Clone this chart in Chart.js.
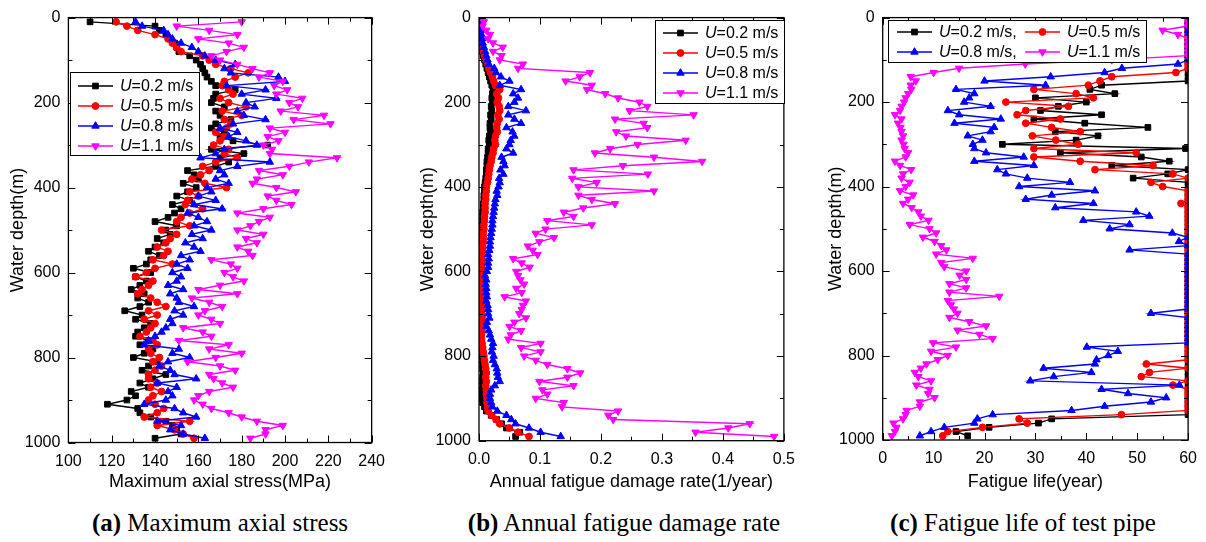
<!DOCTYPE html>
<html>
<head>
<meta charset="utf-8">
<script src="https://cdn.jsdelivr.net/npm/chart.js@4.4.1/dist/chart.umd.min.js"></script>
<style>
  body { margin: 0; background: #fff; }
  #page { position: relative; width: 1206px; height: 542px; overflow: hidden; background: #fff; }
  .box { position: absolute; top: 0; }
  .cap { position: absolute; top: 508px; font: 25px "Liberation Serif", "Times New Roman", serif; line-height: 30px; white-space: nowrap; transform: translateX(-50%); color: #000; }
</style>
</head>
<body>
<div id="page">
  <div class="box" style="left:0px;width:394px;height:493px"><canvas id="chartA" width="394" height="493"></canvas></div>
  <div class="box" style="left:410px;width:394px;height:493px"><canvas id="chartB" width="394" height="493"></canvas></div>
  <div class="box" style="left:818px;width:388px;height:493px"><canvas id="chartC" width="388" height="493"></canvas></div>
  <div class="cap" style="left:220px"><b>(a)</b> Maximum axial stress</div>
  <div class="cap" style="left:624px"><b>(b)</b> Annual fatigue damage rate</div>
  <div class="cap" style="left:1023px"><b>(c)</b> Fatigue life of test pipe</div>
</div>
<script>
// water depth of each point (m)
const depths = [
  10, 20, 30, 40, 50, 60, 70, 80, 90, 100,
  110, 120, 130, 140, 150, 160, 170, 180, 190, 200,
  210, 220, 230, 240, 250, 260, 270, 280, 290, 300,
  310, 320, 330, 340, 350, 360, 370, 380, 390, 400,
  410, 420, 430, 440, 450, 460, 470, 480, 490, 500,
  510, 520, 530, 540, 550, 560, 570, 580, 590, 600,
  610, 620, 630, 640, 650, 660, 670, 680, 690, 700,
  710, 720, 730, 740, 750, 760, 770, 780, 790, 800,
  810, 820, 830, 840, 850, 860, 870, 880, 890, 900,
  910, 920, 930, 940, 950, 960, 970, 980, 990
];

const legendLabels = ['=0.2 m/s', '=0.5 m/s', '=0.8 m/s', '=1.1 m/s'];

// (a) maximum axial stress, MPa
const stressU02 = [
  110, 140, 142, 145, 147, 149, 150, 151, 156, 159,
  161, 162, 163, 164, 166, 168, 177, 168, 167, 166,
  172, 168, 170, 175, 168, 166, 172, 170, 176, 192,
  166, 181, 170, 174, 168, 155, 158, 160, 153, 159,
  155, 150, 156, 148, 152, 149, 146, 140, 150, 145,
  147, 141, 144, 140, 137, 142, 138, 136, 130, 138,
  131, 136, 133, 129, 135, 132, 137, 133, 126, 134,
  131, 138, 135, 132, 131, 137, 133, 139, 135, 130,
  141, 137, 134, 145, 139, 133, 137, 129, 131, 127,
  118, 132, 133, 138, 145, 148, 150, 152, 140
];
const stressU05 = [
  122, 127, 132, 140, 146, 148, 150, 152, 162, 165,
  168, 175, 183, 177, 172, 171, 174, 176, 170, 174,
  182, 171, 180, 172, 175, 173, 168, 172, 170, 167,
  174, 172, 178, 168, 162, 165, 161, 157, 163, 173,
  156, 160, 155, 154, 162, 156, 152, 150, 156, 143,
  150, 147, 145, 141, 146, 144, 139, 148, 140, 136,
  131, 139, 137, 134, 132, 138, 141, 145, 137, 141,
  135, 140, 138, 136, 133, 139, 141, 137, 138, 142,
  139, 143, 140, 137, 137, 141, 138, 143, 139, 137,
  140, 144, 141, 135, 156, 141, 149, 153, 158
];
const stressU08 = [
  131, 134, 144, 146, 148, 152, 157, 160, 163, 168,
  177, 172, 175, 197, 200, 173, 191, 180, 196, 182,
  186, 178, 181, 191, 176, 170, 178, 174, 182, 187,
  172, 168, 161, 193, 178, 170, 172, 168, 174, 164,
  166, 160, 168, 158, 171, 155, 160, 164, 158, 166,
  157, 162, 154, 158, 161, 152, 156, 150, 155, 148,
  152, 150, 146, 153, 147, 150, 151, 158, 149, 153,
  147, 148, 145, 143, 140, 137, 135, 151, 148, 156,
  146, 142, 147, 149, 159, 141, 150, 146, 148, 145,
  135, 149, 153, 159, 141, 152, 147, 153, 163
];
const stressU11 = [
  180, 150, 165, 178, 160, 174, 181, 173, 166, 170,
  178, 185, 193, 188, 199, 195, 201, 196, 208, 202,
  206, 198, 218, 204, 221, 193, 200, 192, 197, 190,
  194, 193, 224, 211, 202, 188, 199, 187, 185, 196,
  205, 192, 196, 203, 190, 178, 193, 188, 184, 178,
  190, 182, 187, 178, 183, 185, 166, 175, 178, 172,
  176, 181, 170, 160, 178, 157, 165, 171, 163, 160,
  166, 170, 153, 162, 166, 151, 174, 165, 180, 168,
  155, 170, 177, 165, 167, 171, 176, 165, 160, 158,
  162, 166, 174, 180, 187, 199, 191, 191, 184
];

// (b) annual fatigue damage rate, 1/year
const damageU02 = [
  0.0, 0.0, 0.001, 0.001, 0.002, 0.003, 0.004, 0.005, 0.007, 0.009,
  0.011, 0.013, 0.015, 0.017, 0.019, 0.021, 0.023, 0.022, 0.021, 0.022,
  0.02, 0.021, 0.019, 0.02, 0.018, 0.018, 0.019, 0.017, 0.016, 0.017,
  0.015, 0.015, 0.014, 0.013, 0.013, 0.012, 0.012, 0.011, 0.01, 0.009,
  0.009, 0.008, 0.008, 0.007, 0.007, 0.006, 0.006, 0.006, 0.005, 0.005,
  0.004, 0.004, 0.004, 0.003, 0.003, 0.003, 0.003, 0.002, 0.002, 0.002,
  0.002, 0.002, 0.002, 0.002, 0.002, 0.003, 0.003, 0.003, 0.003, 0.003,
  0.003, 0.003, 0.003, 0.003, 0.003, 0.003, 0.004, 0.004, 0.005, 0.005,
  0.006, 0.006, 0.006, 0.007, 0.006, 0.006, 0.006, 0.005, 0.005, 0.004,
  0.006, 0.009, 0.012, 0.02, 0.029, 0.037, 0.045, 0.067, 0.06
];
const damageU05 = [
  0.0, 0.001, 0.001, 0.002, 0.003, 0.004, 0.005, 0.007, 0.009, 0.011,
  0.014, 0.016, 0.019, 0.022, 0.024, 0.027, 0.034, 0.029, 0.032, 0.03,
  0.033, 0.034, 0.031, 0.033, 0.03, 0.029, 0.03, 0.027, 0.026, 0.027,
  0.024, 0.023, 0.021, 0.02, 0.018, 0.017, 0.016, 0.015, 0.014, 0.012,
  0.012, 0.011, 0.011, 0.01, 0.01, 0.01, 0.009, 0.009, 0.008, 0.008,
  0.007, 0.007, 0.007, 0.006, 0.006, 0.005, 0.005, 0.005, 0.004, 0.004,
  0.003, 0.003, 0.002, 0.003, 0.003, 0.004, 0.004, 0.004, 0.005, 0.004,
  0.005, 0.004, 0.004, 0.005, 0.004, 0.004, 0.005, 0.006, 0.007, 0.008,
  0.009, 0.01, 0.011, 0.012, 0.011, 0.012, 0.011, 0.012, 0.012, 0.013,
  0.013, 0.014, 0.015, 0.021, 0.028, 0.034, 0.05, 0.064, 0.082
];
const damageU08 = [
  0.001, 0.002, 0.003, 0.004, 0.005, 0.006, 0.008, 0.01, 0.012, 0.014,
  0.016, 0.025, 0.028, 0.036, 0.05, 0.034, 0.069, 0.056, 0.064, 0.058,
  0.048, 0.077, 0.048, 0.058, 0.069, 0.045, 0.055, 0.058, 0.052, 0.05,
  0.045, 0.056, 0.037, 0.04, 0.042, 0.035, 0.04, 0.033, 0.034, 0.032,
  0.029, 0.03, 0.027, 0.026, 0.025, 0.024, 0.023, 0.022, 0.022, 0.021,
  0.02, 0.019, 0.018, 0.018, 0.017, 0.015, 0.016, 0.015, 0.015, 0.013,
  0.01, 0.012, 0.011, 0.012, 0.012, 0.013, 0.012, 0.014, 0.015, 0.015,
  0.017, 0.013, 0.012, 0.016, 0.018, 0.02, 0.023, 0.022, 0.021, 0.024,
  0.023, 0.026, 0.029, 0.03, 0.031, 0.034, 0.026, 0.02, 0.018, 0.018,
  0.02, 0.022, 0.03, 0.045, 0.053, 0.06, 0.082, 0.101, 0.134
];
const damageU11 = [
  0.008, 0.006, 0.012, 0.018, 0.015, 0.023, 0.039, 0.023, 0.037, 0.034,
  0.072, 0.064, 0.182, 0.165, 0.142, 0.185, 0.177, 0.207, 0.228, 0.263,
  0.276, 0.247, 0.352, 0.223, 0.27, 0.276, 0.225, 0.241, 0.339, 0.26,
  0.215, 0.19, 0.287, 0.366, 0.236, 0.155, 0.277, 0.153, 0.193, 0.163,
  0.287, 0.163, 0.185, 0.223, 0.171, 0.139, 0.155, 0.112, 0.185, 0.109,
  0.093, 0.123, 0.099, 0.08, 0.088, 0.096, 0.056, 0.07, 0.083, 0.061,
  0.064, 0.068, 0.074, 0.061, 0.07, 0.042, 0.077, 0.072, 0.07, 0.066,
  0.077, 0.058, 0.05, 0.069, 0.052, 0.048, 0.101, 0.069, 0.101, 0.074,
  0.093, 0.112, 0.145, 0.166, 0.145, 0.099, 0.155, 0.104, 0.112, 0.093,
  0.139, 0.136, 0.228, 0.212, 0.22, 0.444, 0.409, 0.355, 0.484
];

// (c) fatigue life, year (plotted up to 60)
const lifeU02 = [
  60, 60, 60, 60, 60, 60, 60, 60, 60, 60,
  60, 60, 60, 60, 60, 43, 40.7, 45.6, 30, 40,
  34.5, 31, 43, 29.7, 39.7, 52.1, 33.9, 42.3, 38, 23.5,
  59.5, 34.9, 50.8, 56.3, 45, 60, 56, 49.2, 60, 60,
  60, 60, 60, 60, 60, 60, 60, 60, 60, 60,
  60, 60, 60, 60, 60, 60, 60, 60, 60, 60,
  60, 60, 60, 60, 60, 60, 60, 60, 60, 60,
  60, 60, 60, 60, 60, 60, 60, 60, 60, 60,
  60, 60, 60, 60, 60, 60, 60, 60, 60, 60,
  60, 60, 60, 60, 33.2, 30.6, 20.9, 14.4, 16.7
];
const lifeU05 = [
  60, 60, 60, 60, 60, 60, 60, 60, 60, 60,
  60, 60, 57.6, 45, 42.7, 40.4, 29.7, 38, 41.4, 24.2,
  36.5, 28.1, 26.4, 34.9, 28.1, 33.2, 38.8, 29.4, 34, 38.4,
  29.7, 49.8, 29.7, 38.8, 53.1, 41.7, 57, 60, 52.7, 55,
  60, 60, 60, 58.6, 60, 60, 60, 60, 60, 60,
  60, 60, 60, 60, 60, 60, 60, 60, 60, 60,
  60, 60, 60, 60, 60, 60, 60, 60, 60, 60,
  60, 60, 60, 60, 60, 60, 60, 60, 60, 60,
  60, 51.8, 60, 52.4, 50.8, 60, 57, 60, 60, 60,
  60, 60, 60, 46.9, 26.8, 28.4, 19.6, 12.8, 11.8
];
const lifeU08 = [
  60, 60, 60, 60, 60, 60, 60, 60, 60, 60,
  58, 47, 43.6, 33, 20, 32, 14.4, 18, 17, 16,
  21.2, 12.8, 15, 23.2, 14.1, 21.9, 21.2, 16.7, 19.6, 17.7,
  18, 20.3, 27.7, 18, 29.7, 22.5, 24.2, 28.4, 36.8, 26.8,
  41.7, 33.2, 28.1, 41.4, 33.9, 49.8, 52.4, 39.4, 48.5, 44.6,
  56.9, 60, 58.2, 60, 48.5, 60, 60, 60, 60, 60,
  60, 60, 60, 60, 60, 60, 60, 60, 60, 52.7,
  60, 60, 60, 60, 60, 60, 60, 40.1, 46.2, 44.3,
  42, 41.7, 31.6, 41, 33.6, 29, 58.3, 43, 48.2, 55.7,
  52.7, 43.6, 37.1, 21.6, 18.6, 18, 12.1, 9.5, 7.3
];
const lifeU11 = [
  60, 60, 55, 58, 60, 60, 60, 60, 60, 45,
  28, 15, 10, 5.5, 6.5, 5.5, 5.6, 5, 4.5, 4.2,
  3.7, 3.4, 2.4, 3.7, 3, 3.5, 3.7, 4, 3.7, 4.1,
  4.3, 5, 4.5, 2.4, 3.4, 5.6, 4, 3.7, 5.3, 4.5,
  3.4, 6, 5, 4, 5.7, 7, 7.5, 9, 5.3, 9.2,
  10.5, 7.9, 10.2, 11.5, 12.5, 10.5, 17.7, 11.5, 12.1, 16.4,
  15.1, 16.4, 13.1, 16.4, 13.1, 22.9, 12.8, 13.4, 14, 14.7,
  13.1, 17, 20.3, 14.7, 19, 21.6, 9.9, 14.4, 9.5, 12.8,
  10.8, 8.6, 7.5, 6.3, 7, 9.5, 6.6, 9.2, 8.9, 10.2,
  7.3, 7.3, 4.7, 4.5, 4, 2.1, 2.7, 2.4, 1.8
];

const colors = ['#000000', '#ff0000', '#0000ff', '#ff00ff'];
const markers = [
  {style: 'rect', radius: 4, rot: 0},
  {style: 'circle', radius: 3.4, rot: 0},
  {style: 'triangle', radius: 4.3, rot: 0},
  {style: 'triangle', radius: 4.3, rot: 180}
];

Chart.defaults.font.family = '"Liberation Sans", Arial, sans-serif';
Chart.defaults.color = '#000';

function makeDatasets(seriesList) {
  return seriesList.map(function(vals, k) {
    return {
      label: 'U' + legendLabels[k],
      data: vals.map(function(v, i) { return {x: v, y: depths[i]}; }),
      showLine: true,
      borderColor: colors[k],
      backgroundColor: colors[k],
      borderWidth: 1.4,
      pointStyle: markers[k].style,
      pointRotation: markers[k].rot,
      pointRadius: markers[k].radius,
      pointBorderWidth: 1,
      pointBorderColor: colors[k],
      pointBackgroundColor: colors[k],
      order: 4 - k,
      clip: 0
    };
  });
}

function drawMarker(ctx, k, x, y) {
  var m = markers[k], r = m.radius;
  ctx.fillStyle = colors[k];
  ctx.strokeStyle = colors[k];
  ctx.lineWidth = 1;
  ctx.beginPath();
  if (m.style === 'rect') {
    var s = r * Math.SQRT1_2;
    ctx.rect(x - s, y - s, 2 * s, 2 * s);
  } else if (m.style === 'circle') {
    ctx.arc(x, y, r, 0, Math.PI * 2);
  } else {
    var d = m.rot ? -1 : 1;
    ctx.moveTo(x, y - d * r);
    ctx.lineTo(x + r * 0.866, y + d * r * 0.5);
    ctx.lineTo(x - r * 0.866, y + d * r * 0.5);
    ctx.closePath();
  }
  ctx.fill();
  ctx.stroke();
}

// inward ticks on all four sides plus the frame
function frameTicks(xMinor, xMajor) {
  return {
    id: 'frameTicks',
    afterDatasetsDraw: function(chart) {
      var ctx = chart.ctx, a = chart.chartArea, xs = chart.scales.x, ys = chart.scales.y;
      ctx.save();
      ctx.strokeStyle = '#000';
      ctx.lineWidth = 1;
      ctx.beginPath();
      var n = Math.round((xs.max - xs.min) / xMinor);
      for (var i = 0; i <= n; i++) {
        var v = xs.min + i * xMinor;
        var len = (i % Math.round(xMajor / xMinor) === 0) ? 7 : 4;
        var px = Math.round(xs.getPixelForValue(v)) + 0.5;
        ctx.moveTo(px, a.bottom); ctx.lineTo(px, a.bottom - len);
        ctx.moveTo(px, a.top); ctx.lineTo(px, a.top + len);
      }
      for (var j = 0; j <= 10; j++) {
        var py = Math.round(ys.getPixelForValue(j * 100)) + 0.5;
        var l2 = (j % 2 === 0) ? 7 : 4;
        ctx.moveTo(a.left, py); ctx.lineTo(a.left + l2, py);
        ctx.moveTo(a.right, py); ctx.lineTo(a.right - l2, py);
      }
      ctx.stroke();
      ctx.lineWidth = 1.3;
      ctx.strokeRect(a.left, a.top, a.right - a.left, a.bottom - a.top);
      ctx.restore();
    }
  };
}

function boxLegend(box, items) {
  return {
    id: 'boxLegend',
    afterDraw: function(chart) {
      var ctx = chart.ctx;
      ctx.save();
      ctx.fillStyle = '#fff';
      ctx.fillRect(box.x, box.y, box.w, box.h);
      ctx.strokeStyle = '#000';
      ctx.lineWidth = 1;
      ctx.strokeRect(box.x + 0.5, box.y + 0.5, box.w, box.h);
      items.forEach(function(it) {
        var k = it.k;
        ctx.strokeStyle = colors[k];
        ctx.lineWidth = 1.4;
        ctx.beginPath();
        ctx.moveTo(it.x, it.y); ctx.lineTo(it.x + 35, it.y);
        ctx.stroke();
        drawMarker(ctx, k, it.x + 17.5, it.y);
        ctx.fillStyle = '#000';
        ctx.textBaseline = 'middle';
        ctx.textAlign = 'left';
        ctx.font = 'italic 16px "Liberation Sans", Arial, sans-serif';
        ctx.fillText('U', it.x + 42, it.y + 1);
        var w = ctx.measureText('U').width;
        ctx.font = '16px "Liberation Sans", Arial, sans-serif';
        ctx.fillText(legendLabels[k] + (it.suffix || ''), it.x + 42 + w, it.y + 1);
      });
      ctx.restore();
    }
  };
}

function makeChart(id, cfg) {
  return new Chart(document.getElementById(id), {
    type: 'scatter',
    data: {datasets: makeDatasets(cfg.series)},
    options: {
      responsive: false,
      animation: false,
      layout: {padding: {left: 0, top: cfg.top, right: cfg.right, bottom: 0}},
      plugins: {legend: {display: false}, tooltip: {enabled: false}},
      scales: {
        x: {
          type: 'linear', min: cfg.xMin, max: cfg.xMax,
          ticks: {stepSize: cfg.xStep, padding: 9, font: {size: 16}, maxRotation: 0, autoSkip: false, callback: cfg.xFmt},
          grid: {display: false, drawTicks: false},
          border: {display: false},
          title: {display: true, text: cfg.xTitle, font: {size: 18}, padding: {top: 0, bottom: 0}},
          afterFit: function(s) { s.height = cfg.xHeight; }
        },
        y: {
          type: 'linear', reverse: true, min: 0, max: 1000,
          ticks: {stepSize: 200, padding: 8, font: {size: 16}, callback: function(v) { return String(v); }},
          grid: {display: false, drawTicks: false},
          border: {display: false},
          title: {display: true, text: 'Water depth(m)', font: {size: 18}, padding: {top: 7, bottom: 0}},
          afterFit: function(s) { s.width = cfg.yWidth; }
        }
      }
    },
    plugins: [frameTicks(cfg.xMinor, cfg.xMajor), boxLegend(cfg.legendBox, cfg.legendItems)]
  });
}

makeChart('chartA', {
  series: [stressU02, stressU05, stressU08, stressU11],
  xMin: 100, xMax: 240, xStep: 20, xMinor: 10, xMajor: 20,
  xFmt: function(v) { return String(v); },
  xTitle: 'Maximum axial stress(MPa)',
  top: 16, right: 15.6, yWidth: 68.4, xHeight: 50.5,
  legendBox: {x: 70, y: 72, w: 129, h: 83},
  legendItems: [{k: 0, x: 78, y: 86}, {k: 1, x: 78, y: 106}, {k: 2, x: 78, y: 126}, {k: 3, x: 78, y: 146}]
});

makeChart('chartB', {
  series: [damageU02, damageU05, damageU08, damageU11],
  xMin: 0, xMax: 0.5, xStep: 0.1, xMinor: 0.05, xMajor: 0.1,
  xFmt: function(v) { return Number(v).toFixed(1); },
  xTitle: 'Annual fatigue damage rate(1/year)',
  top: 15.7, right: 15.7, yWidth: 69, xHeight: 52.3,
  legendBox: {x: 245, y: 20, w: 129, h: 83},
  legendItems: [{k: 0, x: 253, y: 33}, {k: 1, x: 253, y: 53}, {k: 2, x: 253, y: 73}, {k: 3, x: 253, y: 93}]
});

makeChart('chartC', {
  series: [lifeU02, lifeU05, lifeU08, lifeU11],
  xMin: 0, xMax: 60, xStep: 10, xMinor: 5, xMajor: 10,
  xFmt: function(v) { return String(v); },
  xTitle: 'Fatigue life(year)',
  top: 15.7, right: 15.3, yWidth: 64.7, xHeight: 53,
  legendBox: {x: 70, y: 20, w: 258, h: 42},
  legendItems: [{k: 0, x: 79, y: 32, suffix: ','}, {k: 1, x: 207, y: 32}, {k: 2, x: 79, y: 52, suffix: ','}, {k: 3, x: 207, y: 52}]
});
</script>
</body>
</html>
